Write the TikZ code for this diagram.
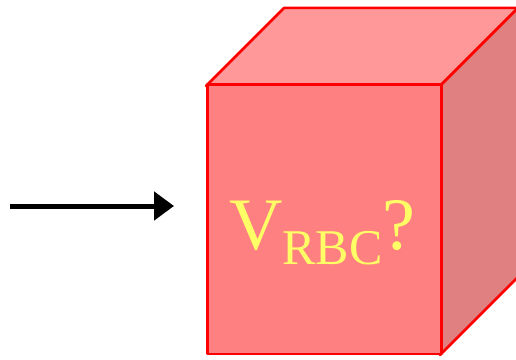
\documentclass[tikz,border=0pt]{standalone}
\usepackage{fontspec}
\setmainfont{Liberation Serif}
\usetikzlibrary{arrows.meta}
\definecolor{frontc}{RGB}{255,128,128}
\definecolor{topc}{RGB}{255,153,153}
\definecolor{sidec}{RGB}{224,128,128}
\definecolor{edgec}{RGB}{255,0,0}
\definecolor{txtc}{RGB}{255,255,102}
\tikzset{
  face/.style={draw=edgec, line width=2.5pt, line join=round},
  flow/.style={line width=5pt, -{Triangle[length=20pt,width=28pt]}},
  label/.style={text=txtc, inner sep=0pt, anchor=base west}
}
\begin{document}
\begin{tikzpicture}[x=1pt,y=1pt]
\useasboundingbox (0,0) rectangle (516,359);
\clip (0,0) rectangle (516,359);
% top face
\path[face, fill=topc] (206,273) -- (440,273) -- (518,351) -- (284,351) -- cycle;
% right face
\path[face, fill=sidec] (440,273) -- (518,351) -- (518,82) -- (440,4) -- cycle;
% front face
\node[face, fill=frontc, minimum width=234pt, minimum height=269pt, inner sep=0pt, anchor=south west] (front) at (206,4) {};
% label
\node[label] (v) at (229,110) {\fontsize{74}{80}\selectfont V\raisebox{-15pt}{\fontsize{50}{54}\selectfont RBC}?};
% arrow
\coordinate (a) at (10,153);
\coordinate (b) at (174,153);
\draw[flow] (a) -- (b);
\end{tikzpicture}
\end{document}
